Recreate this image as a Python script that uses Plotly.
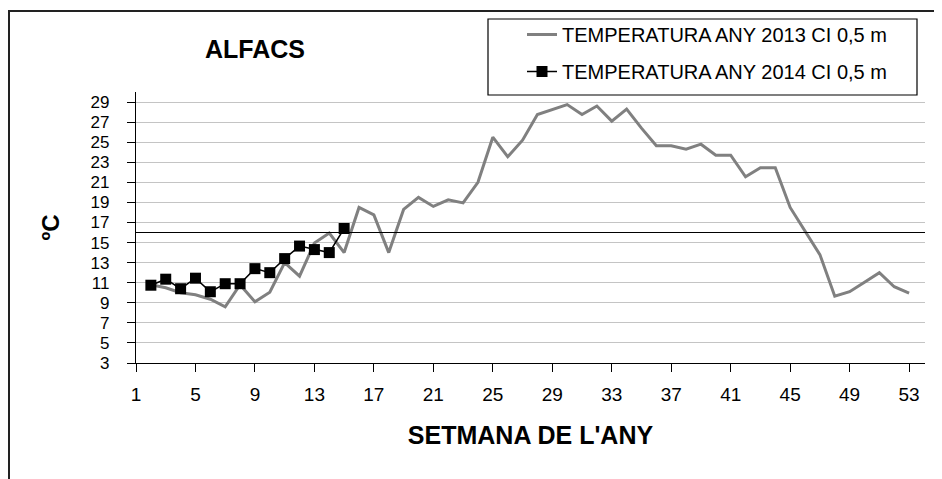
import plotly.graph_objects as go

# ---- data ----
weeks_2013 = list(range(2, 54))
temp_2013 = [10.8, 10.5, 10.0, 9.8, 9.35, 8.6, 10.8, 9.1, 10.05, 13.0, 11.65, 14.95, 15.95, 14.0,
             18.5, 17.75, 14.0, 18.3, 19.5, 18.6, 19.25, 18.95, 21.0, 25.5, 23.55, 25.2, 27.75,
             28.25, 28.75, 27.75, 28.6, 27.1, 28.3, 26.4, 24.65, 24.65, 24.3, 24.8, 23.7, 23.7,
             21.55, 22.45, 22.45, 18.5, 16.1, 13.8, 9.65, 10.1, 11.05, 12.0, 10.6, 9.95]
weeks_2014 = list(range(2, 16))
temp_2014 = [10.75, 11.35, 10.4, 11.45, 10.1, 10.9, 10.9, 12.4, 12.0, 13.4, 14.65, 14.3, 14.0, 16.4]
threshold = 16
x_ticks = list(range(1, 54, 4))
y_ticks = list(range(3, 30, 2))

name_2013 = "TEMPERATURA ANY 2013 CI 0,5 m"
name_2014 = "TEMPERATURA ANY 2014 CI 0,5 m"

FONT = "Liberation Sans, Arial, sans-serif"

fig = go.Figure()
fig.add_trace(go.Scatter(x=weeks_2013, y=temp_2013, mode="lines", name=name_2013,
                         line=dict(color="#808080", width=3), legendgroup="a"))
fig.add_trace(go.Scatter(x=weeks_2014, y=temp_2014, mode="lines+markers", name=name_2014,
                         line=dict(color="black", width=1.5),
                         marker=dict(symbol="square", size=11, color="black"), legendgroup="b"))

fig.add_hline(y=threshold, line=dict(color="black", width=1.2), layer="above")

# page body has an 8px margin: lay out in figure pixels = target pixels - 8
OFF = 8
W, H = 942 - OFF, 479 - OFF
ml, mr, mt, mb = 136 - OFF, 17, 92 - OFF, 116
pw, ph = W - ml - mr, H - mt - mb

def px(xt):
    return (xt - OFF - ml) / pw

def py(yt):
    return (H - mb - (yt - OFF)) / ph

# outer chart border
fig.add_shape(type="rect", xref="paper", yref="paper",
              x0=px(9), x1=px(970), y0=py(510), y1=py(11),
              line=dict(color="#222222", width=2), fillcolor="rgba(0,0,0,0)", layer="below")
# legend frame
fig.add_shape(type="rect", xref="paper", yref="paper",
              x0=px(488), x1=px(917), y0=py(95), y1=py(19),
              line=dict(color="black", width=1.2), fillcolor="white", layer="above")

fig.update_layout(
    width=W, height=H,
    margin=dict(l=ml, r=mr, t=mt, b=mb, autoexpand=False),
    paper_bgcolor="white", plot_bgcolor="white",
    font=dict(family=FONT, color="black", size=20),
    title=dict(text="<b>ALFACS</b>", x=(255 - OFF) / W, y=1 - (49 - OFF) / H,
               xanchor="center", yanchor="middle",
               font=dict(size=25, family=FONT, color="black")),
    legend=dict(xref="container", yref="container",
                x=(522 - OFF) / W, y=1 - (15 - OFF) / H, xanchor="left", yanchor="top",
                borderwidth=0, bgcolor="rgba(0,0,0,0)",
                font=dict(size=20, family=FONT), tracegroupgap=8, traceorder="grouped"),
    showlegend=True,
)
fig.update_xaxes(range=[1, 54.07], tickvals=x_ticks, ticks="outside", ticklen=8, tickcolor="black",
                 showline=True, linecolor="black", linewidth=1.2, showgrid=False, zeroline=False,
                 tickfont=dict(size=19), ticklabelstandoff=6,
                 title=dict(text="<b>SETMANA DE L'ANY</b>", font=dict(size=25), standoff=22))
fig.update_yaxes(range=[3, 30], tickvals=y_ticks, ticks="outside", ticklen=8, tickcolor="black",
                 showline=True, linecolor="black", linewidth=1.2, showgrid=True,
                 gridcolor="#c4c4c4", gridwidth=1.2, zeroline=False,
                 tickfont=dict(size=17), ticklabelstandoff=14,
                 title=dict(text="<b>ºC</b>", font=dict(size=24), standoff=24))

fig.write_html("out.html")
